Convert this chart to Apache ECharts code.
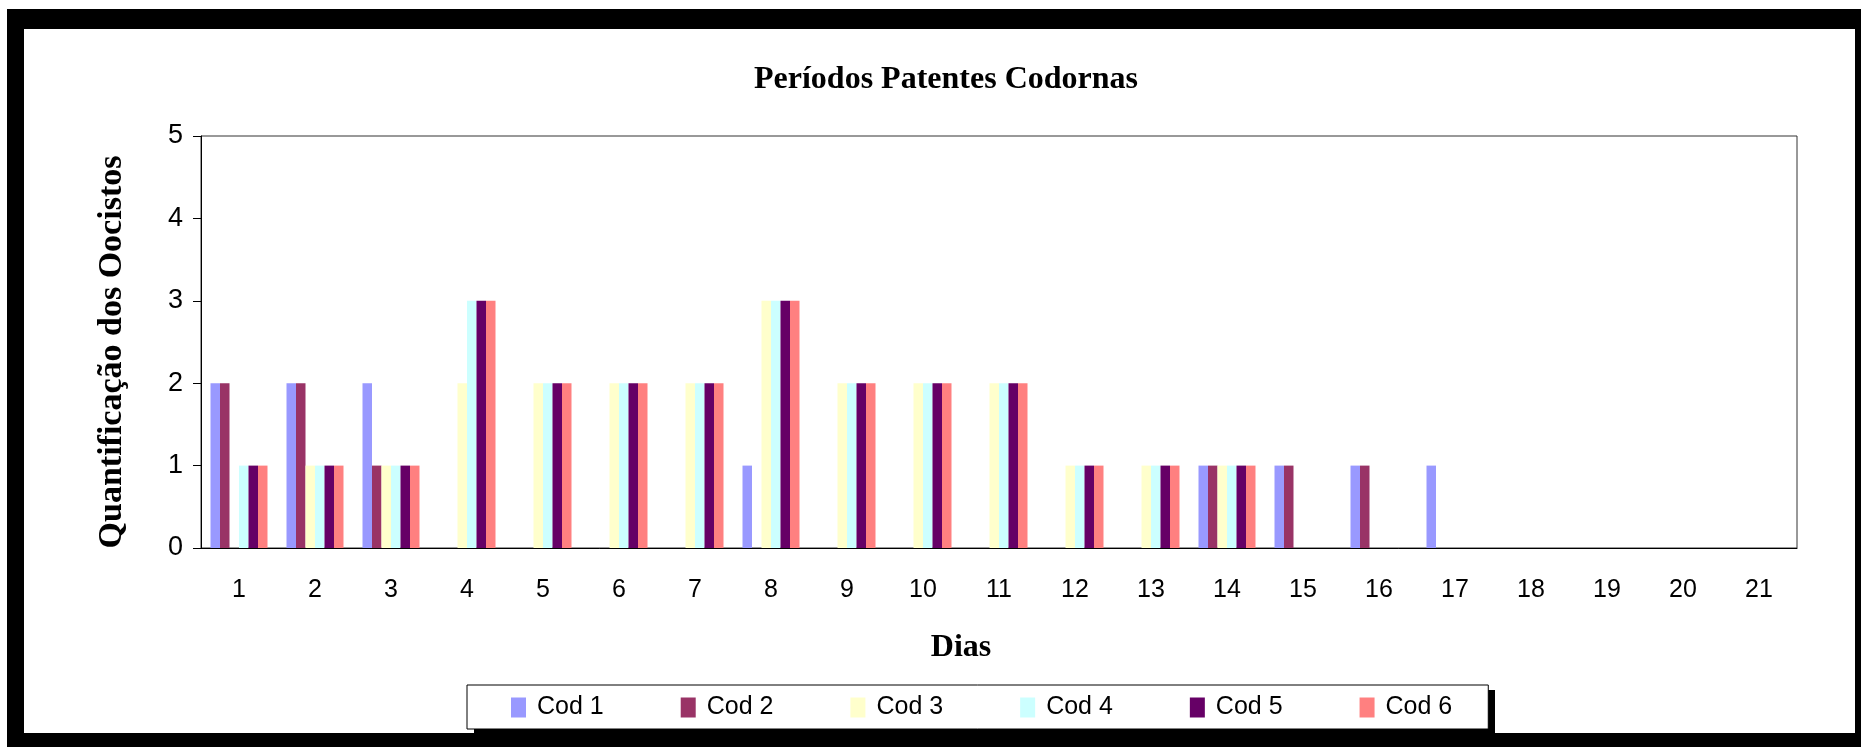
<!DOCTYPE html>
<html>
<head>
<meta charset="utf-8">
<script src="https://cdn.jsdelivr.net/npm/echarts@6/dist/echarts.min.js"></script>
<style>
html,body{margin:0;padding:0;background:#fff;}
#chart{width:1861px;height:747px;}
</style>
</head>
<body>
<div id="chart"></div>
<script>
const days = ['1','2','3','4','5','6','7','8','9','10','11','12','13','14','15','16','17','18','19','20','21'];
const seriesNames = ['Cod 1','Cod 2','Cod 3','Cod 4','Cod 5','Cod 6'];
const cod1 = [2,2,2,0,0,0,0,1,0,0,0,0,0,1,1,1,1,0,0,0,0];
const cod2 = [2,2,1,0,0,0,0,0,0,0,0,0,0,1,1,1,0,0,0,0,0];
const cod3 = [0,1,1,2,2,2,2,3,2,2,2,1,1,1,0,0,0,0,0,0,0];
const cod4 = [1,1,1,3,2,2,2,3,2,2,2,1,1,1,0,0,0,0,0,0,0];
const cod5 = [1,1,1,3,2,2,2,3,2,2,2,1,1,1,0,0,0,0,0,0,0];
const cod6 = [1,1,1,3,2,2,2,3,2,2,2,1,1,1,0,0,0,0,0,0,0];
const yTicks = [0,1,2,3,4,5];
const colors = ['#9999FF','#993366','#FFFFCC','#CCFFFF','#660066','#FF8080'];

const allData = [cod1,cod2,cod3,cod4,cod5,cod6];
const chart = echarts.init(document.getElementById('chart'), null, {renderer:'canvas'});
const option = {
  animation: false,
  backgroundColor: '#ffffff',
  color: colors,
  graphic: [
    {type:'rect', z:-100, shape:{x:7, y:9, width:1854, height:738}, style:{fill:'#000'}},
    {type:'rect', z:-99, shape:{x:24, y:29, width:1831, height:704}, style:{fill:'#fff'}},
    {type:'rect', z:-98, shape:{x:474, y:690, width:1021, height:43}, style:{fill:'#000'}}
  ],
  title: {
    text: 'Períodos Patentes Codornas',
    left: 941, top: 59, textAlign: 'center',
    textStyle: {fontFamily: '"Liberation Serif","Times New Roman",serif', fontWeight: 'bold', fontSize: 32, color: '#000'}
  },
  legend: {
    data: seriesNames,
    left: 467, top: 685,
    orient: 'horizontal',
    itemWidth: 15, itemHeight: 20, itemGap: 77,
    padding: [10, 36, 9, 44],
    backgroundColor: '#fff', borderColor: '#000', borderWidth: 1,
    textStyle: {fontFamily: '"Liberation Sans", Arial, sans-serif', fontSize: 25, color: '#000', padding: [0, 0, 0, 6]},
    icon: 'rect'
  },
  grid: {
    left: 201, right: 64, top: 136, bottom: 199,
    show: true, borderColor: '#333', borderWidth: 1, backgroundColor: 'transparent'
  },
  xAxis: {
    type: 'category', data: days,
    name: 'Dias', nameLocation: 'middle', nameGap: 84,
    nameTextStyle: {fontFamily: '"Liberation Serif","Times New Roman",serif', fontWeight: 'bold', fontSize: 32, color: '#000', padding: [0, 76, 0, 0]},
    axisLine: {lineStyle: {color: '#000', width: 1}},
    axisTick: {show: false},
    axisLabel: {margin: 30, fontFamily: '"Liberation Sans", Arial, sans-serif', fontSize: 25, color: '#000'},
    splitLine: {show: false}
  },
  yAxis: {
    type: 'value', min: yTicks[0], max: yTicks[yTicks.length-1], interval: 1,
    name: 'Quantificação dos Oocistos', nameLocation: 'middle', nameGap: 72, nameRotate: 90,
    nameTextStyle: {fontFamily: '"Liberation Serif","Times New Roman",serif', fontWeight: 'bold', fontSize: 34, color: '#000', padding: [0, 20, 0, 0]},
    axisLine: {show: true, lineStyle: {color: '#000', width: 1}},
    axisTick: {show: true, inside: false, length: 8, lineStyle: {color: '#000'}},
    axisLabel: {margin: 18, fontFamily: '"Liberation Sans", Arial, sans-serif', fontSize: 27, color: '#000'},
    splitLine: {show: false}
  },
  series: seriesNames.map((n, i) => ({
    name: n, type: 'bar', data: allData[i],
    barGap: '0%', barCategoryGap: '25%',
    itemStyle: {color: colors[i]}
  }))
};
chart.setOption(option);
</script>
</body>
</html>
